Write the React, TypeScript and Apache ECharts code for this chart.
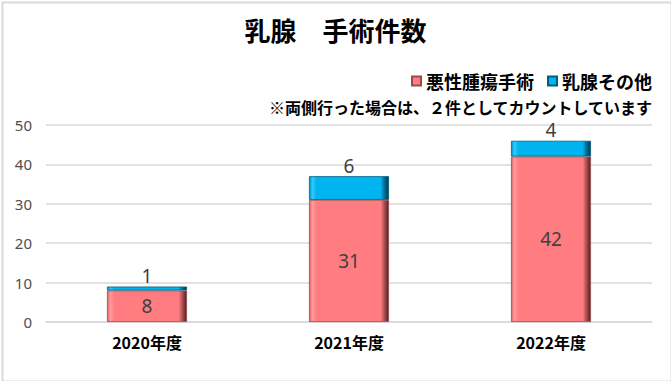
import React, { useEffect, useRef } from "react";
import * as echarts from "echarts";

const categories = ["2020年度", "2021年度", "2022年度"];
const malignant = [8, 31, 42];
const other = [1, 6, 4];
const seriesNames = ["悪性腫瘍手術", "乳腺その他"];
const yTicks = { min: 0, max: 50, interval: 10 };
const titleText = "乳腺　手術件数";
const noteText = "※両側行った場合は、２件としてカウントしています";

const pinkGrad = new echarts.graphic.LinearGradient(0, 0, 1, 0, [
  { offset: 0, color: "#e06a6e" },
  { offset: 0.04, color: "#ff9a9d" },
  { offset: 0.09, color: "#ff7c80" },
  { offset: 0.9, color: "#ff7c80" },
  { offset: 0.94, color: "#b85559" },
  { offset: 1, color: "#4a2224" },
]);
const blueGrad = new echarts.graphic.LinearGradient(0, 0, 1, 0, [
  { offset: 0, color: "#0096cc" },
  { offset: 0.04, color: "#33c8ff" },
  { offset: 0.09, color: "#00b4f0" },
  { offset: 0.9, color: "#00b4f0" },
  { offset: 0.94, color: "#00769f" },
  { offset: 1, color: "#00384c" },
]);

export default function App() {
  const ref = useRef<HTMLDivElement>(null);
  useEffect(() => {
    if (!ref.current) return;
    const chart = echarts.init(ref.current, null, { renderer: "svg" });
    chart.setOption({
      animation: false,
      backgroundColor: "#ffffff",
      textStyle: { fontFamily: "Noto Sans CJK JP" },
      title: {
        text: titleText,
        left: "center",
        top: 11,
        textStyle: { fontSize: 26, fontWeight: "bold", color: "#000", fontFamily: "Noto Sans CJK JP" },
      },
      graphic: [
        {
          type: "rect",
          left: 0,
          top: 0,
          shape: { width: 669, height: 379 },
          style: { fill: "none", stroke: "#d9d9d9", lineWidth: 2 },
          silent: true,
        },
        {
          type: "text",
          right: 18,
          top: 99,
          style: {
            text: noteText,
            fontSize: 16,
            lineHeight: 16,
            fontWeight: "bold",
            fill: "#000",
            fontFamily: "Noto Sans CJK JP",
          },
        },
      ],
      legend: {
        data: seriesNames,
        right: 14,
        top: 67,
        itemWidth: 9,
        itemHeight: 9,
        itemGap: 13,
        icon: "rect",
        textStyle: { fontSize: 18, fontWeight: "bold", color: "#000", padding: [0, 0, 0, 0] },
      },
      grid: { left: 46, right: 19, top: 125, bottom: 59 },
      xAxis: {
        type: "category",
        data: categories,
        axisLine: { show: true, lineStyle: { color: "#d9d9d9", width: 1.5 } },
        axisTick: { show: false },
        axisLabel: { fontSize: 16, fontWeight: "bold", color: "#000", margin: 12 },
      },
      yAxis: {
        type: "value",
        min: yTicks.min,
        max: yTicks.max,
        interval: yTicks.interval,
        axisLine: { show: false },
        axisTick: { show: false },
        splitLine: { lineStyle: { color: "#d9d9d9", width: 1.5 } },
        axisLabel: { fontSize: 15, color: "#4d4d4d", margin: 14, fontFamily: "Noto Sans" },
      },
      series: [
        {
          name: seriesNames[0],
          type: "bar",
          stack: "total",
          barWidth: 80,
          data: malignant,
          itemStyle: { color: pinkGrad, borderColor: "#9c4a4d", borderWidth: 0.8 },
          label: {
            show: true,
            position: "inside",
            fontSize: 19,
            color: "#404040",
            fontFamily: "Noto Sans",
          },
        },
        {
          name: seriesNames[1],
          type: "bar",
          stack: "total",
          barWidth: 80,
          data: other,
          itemStyle: { color: blueGrad, borderColor: "#005f80", borderWidth: 0.8 },
          label: {
            show: true,
            position: "top",
            distance: 1,
            fontSize: 19,
            lineHeight: 19,
            color: "#404040",
            fontFamily: "Noto Sans",
          },
        },
      ],
    });
    return () => chart.dispose();
  }, []);
  return (
    <div
      ref={ref}
      style={{ position: "fixed", left: 0, top: 0, width: 671, height: 381 }}
    />
  );
}
